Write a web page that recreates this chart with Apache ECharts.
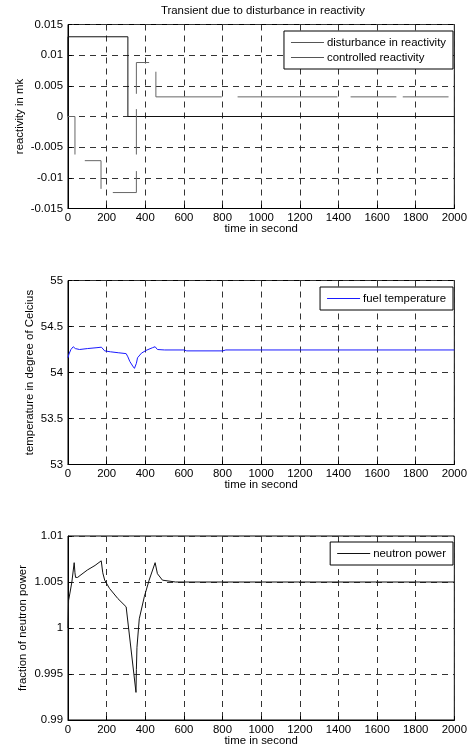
<!DOCTYPE html>
<html>
<head>
<meta charset="utf-8">
<script src="https://cdn.jsdelivr.net/npm/echarts@6/dist/echarts.min.js"></script>
<style>
  html, body { margin: 0; padding: 0; background: #fff; }
  #main { width: 470px; height: 751px; }
</style>
</head>
<body>
<div id="main"></div>
<script>
// top plot: reactivity (null = break in the line)
var distT = [0, 0, 310, 310, 2000];
var distV = [0, 0.013, 0.013, 0, 0];
var ctrlT = [0, 36, 36, null, 87, 171, 171, null, 232, 354, 354, null, 354, 354, null, 354, 354, 420, null,
             455, 455, 796, null, 878, 1395, null, 1463, 1700, null, 1733, 1970];
var ctrlV = [0, 0, -0.0062, null, -0.0072, -0.0072, -0.0118, null, -0.0124, -0.0124, -0.0089, null, 0.0012, -0.0062, null, 0.0037, 0.0088, 0.0088, null,
             0.0073, 0.0032, 0.0032, null, 0.0032, 0.0032, null, 0.0032, 0.0032, null, 0.0032, 0.0032];

// middle plot: fuel temperature
var tempT = [0, 5, 15, 27, 38, 45, 60, 100, 150, 173, 182, 190, 220, 260, 301, 310, 320, 335, 344, 352, 354, 360, 380, 404, 438, 451, 463, 500, 600, 615, 800, 817, 2000];
var tempV = [54.16, 54.2, 54.25, 54.28, 54.26, 54.245, 54.25, 54.26, 54.27, 54.275, 54.26, 54.235, 54.225, 54.215, 54.205, 54.17, 54.12, 54.07, 54.045, 54.04, 54.1, 54.16, 54.21, 54.24, 54.27, 54.28, 54.25, 54.245, 54.245, 54.235, 54.235, 54.245, 54.245];

// bottom plot: neutron power
var powT = [0, 3, 10, 20, 32, 36, 39, 50, 62, 100, 140, 172, 180, 190, 215, 258, 301, 352, 354, 357, 369, 395, 420, 451, 463, 489, 557, 600, 2000];
var powV = [1.0, 1.003, 1.0038, 1.005, 1.0071, 1.006, 1.0055, 1.0055, 1.0057, 1.0063, 1.0068, 1.0073, 1.006, 1.0052, 1.0043, 1.0032, 1.0023, 0.993, 0.9955, 0.9979, 1.001, 1.0034, 1.0052, 1.0071, 1.0059, 1.0052, 1.005, 1.005, 1.005];

var FONT = 'Liberation Sans, Arial, sans-serif';
var FS = 11.4;

function pairs(t, v) {
    var out = [];
    for (var i = 0; i < t.length; i++) {
        if (t[i] === null || v[i] === null) out.push('-');
        else out.push([t[i], v[i]]);
    }
    return out;
}

var fmtNum = function (v) { return String(parseFloat(v.toFixed(4))); };

function xAx(idx) {
    return {
        type: 'value', gridIndex: idx, min: 0, max: 2000, interval: 200,
        name: 'time in second', nameLocation: 'middle', nameGap: 15, nameMoveOverlap: false,
        nameTextStyle: { color: '#000', fontSize: FS, fontFamily: FONT },
        axisLine: { show: true, onZero: false, lineStyle: { color: '#000', width: 1 } },
        axisTick: { show: true, inside: true, length: 4, lineStyle: { color: '#000' } },
        axisLabel: { color: '#000', fontSize: FS, fontFamily: FONT, margin: 4, formatter: fmtNum },
        splitLine: { show: true, lineStyle: { color: '#333', type: [6, 5], width: 1 } }
    };
}

function yAx(idx, min, max, step, name, gap) {
    return {
        type: 'value', gridIndex: idx, min: min, max: max, interval: step,
        name: name, nameLocation: 'middle', nameGap: gap, nameMoveOverlap: false,
        nameTextStyle: { color: '#000', fontSize: FS, fontFamily: FONT },
        axisLine: { show: true, lineStyle: { color: '#000', width: 1 } },
        axisTick: { show: true, inside: true, length: 4, lineStyle: { color: '#000' } },
        axisLabel: { color: '#000', fontSize: FS, fontFamily: FONT, margin: 5, formatter: fmtNum },
        splitLine: { show: true, lineStyle: { color: '#333', type: [6, 5], width: 1 } }
    };
}

function legendAt(top, names) {
    return {
        data: names, orient: 'vertical', right: 17, top: top,
        icon: 'rect', itemWidth: 33, itemHeight: 1, itemGap: 4,
        padding: [6, 7, 6, 7],
        borderColor: '#000', borderWidth: 1, backgroundColor: '#fff',
        textStyle: { color: '#000', fontSize: FS, fontFamily: FONT, padding: [0, 0, 0, -2] },
        selectedMode: false
    };
}

var chart = echarts.init(document.getElementById('main'));
chart.setOption({
    animation: false,
    backgroundColor: '#fff',
    title: {
        text: 'Transient due to disturbance in reactivity',
        left: 263, top: 5, textAlign: 'center', padding: 0,
        textStyle: { color: '#000', fontSize: FS, fontWeight: 'normal', fontFamily: FONT }
    },
    grid: [
        { left: 68, top: 24.5, width: 390, height: 184, show: true, borderColor: '#000', borderWidth: 1 },
        { left: 68, top: 280.5, width: 390, height: 184, show: true, borderColor: '#000', borderWidth: 1 },
        { left: 68, top: 536, width: 390, height: 184, show: true, borderColor: '#000', borderWidth: 1 }
    ],
    xAxis: [xAx(0), xAx(1), xAx(2)],
    yAxis: [
        yAx(0, -0.015, 0.015, 0.005, 'reactivity in mk', 43),
        yAx(1, 53, 55, 0.5, 'temperature in degree of Celcius', 33),
        yAx(2, 0.99, 1.01, 0.005, 'fraction of neutron power', 40)
    ],
    legend: [
        legendAt(31, ['disturbance in reactivity', 'controlled reactivity']),
        legendAt(287, ['fuel temperature']),
        legendAt(542, ['neutron power'])
    ],
    series: [
        { name: 'disturbance in reactivity', type: 'line', xAxisIndex: 0, yAxisIndex: 0,
          data: pairs(distT, distV), symbol: 'none', lineStyle: { color: '#111', width: 1 }, itemStyle: { color: '#555' } },
        { name: 'controlled reactivity', type: 'line', xAxisIndex: 0, yAxisIndex: 0,
          data: pairs(ctrlT, ctrlV), symbol: 'none', connectNulls: false, lineStyle: { color: '#666', width: 1 }, itemStyle: { color: '#555' } },
        { name: 'fuel temperature', type: 'line', xAxisIndex: 1, yAxisIndex: 1,
          data: pairs(tempT, tempV), symbol: 'none', lineStyle: { color: '#1a1aff', width: 1 }, itemStyle: { color: '#1a1aff' } },
        { name: 'neutron power', type: 'line', xAxisIndex: 2, yAxisIndex: 2,
          data: pairs(powT, powV), symbol: 'none', lineStyle: { color: '#111', width: 1 }, itemStyle: { color: '#111' } }
    ]
});
</script>
</body>
</html>
